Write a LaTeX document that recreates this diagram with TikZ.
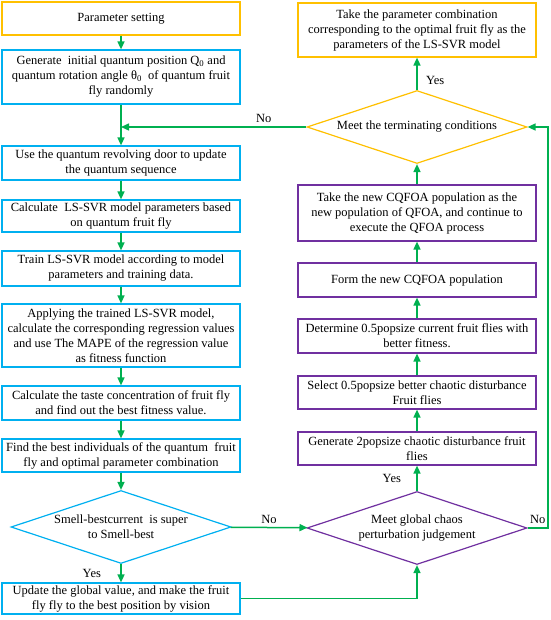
\documentclass[tikz,border=0pt]{standalone}
\usepackage{fontspec}
\setmainfont{Liberation Serif}
\usetikzlibrary{arrows.meta,shapes.geometric}
\definecolor{cyellow}{RGB}{255,192,0}
\definecolor{cblue}{RGB}{0,176,240}
\definecolor{cpurple}{RGB}{112,48,160}
\definecolor{cgreen}{RGB}{0,176,80}
\newcommand{\qsub}[1]{\textsubscript{#1}}

\begin{document}
\begin{tikzpicture}[
			x=1pt, y=-1pt,
			every node/.style={font=\fontsize{12.5}{15}\selectfont},
			box/.style={draw, line width=1.2pt, minimum width=238pt, align=center, inner sep=2pt},
			ybox/.style={box, draw=cyellow},
			bbox/.style={box, draw=cblue},
			pbox/.style={box, draw=cpurple},
			dia/.style={diamond, draw, line width=1.2pt, shape aspect=3, inner sep=0pt,
				minimum width=220pt, minimum height=73pt, align=center},
			arr/.style={draw=cgreen, line width=1.5pt, -{Triangle[length=8pt,width=7pt]}}
		]
			\useasboundingbox (0,0) rectangle (550,620);
			% left column
			\node[ybox, minimum height=33pt] (set) at (121,18.5) {Parameter setting};
			\node[bbox, minimum height=54pt] (init) at (121,77)
				{Generate \ initial quantum position Q\qsub{0} and\\quantum rotation angle θ\qsub{0} \ of quantum fruit\\fly randomly};
			\node[bbox, minimum height=34pt] (door) at (121,163)
				{Use the quantum revolving door to update\\the quantum sequence};
			\node[bbox, minimum height=32pt] (calc) at (121,216)
				{Calculate \ LS-SVR model parameters based\\on quantum fruit fly};
			\node[bbox, minimum height=35pt] (train) at (121,268.5)
				{Train LS-SVR model according to model\\parameters and training data.};
			\node[bbox, minimum height=63pt] (apply) at (121,335.5)
				{Applying the trained LS-SVR model,\\calculate the corresponding regression values\\and use The MAPE of the regression value\\as fitness function};
			\node[bbox, minimum height=34pt] (taste) at (121,403)
				{Calculate the taste concentration of fruit fly\\and find out the best fitness value.};
			\node[bbox, minimum height=33pt] (find) at (121,455.5)
				{Find the best individuals of the quantum \ fruit\\fly and optimal parameter combination};
			\node[dia, draw=cblue] (smell) at (121,527)
				{Smell-bestcurrent \ is super\\to Smell-best};
			\node[bbox, minimum height=31pt] (update) at (121,598.5)
				{Update the global value, and make the fruit\\fly fly to the best position by vision};
			% right column
			\node[ybox, minimum height=54pt] (final) at (417,30)
				{Take the parameter combination\\corresponding to the optimal fruit fly as the\\parameters of the LS-SVR model};
			\node[dia, draw=cyellow] (term) at (417,127) {Meet the terminating conditions};
			\node[pbox, minimum height=56pt] (newpop) at (417,213)
				{Take the new CQFOA population as the\\new population of QFOA, and continue to\\execute the QFOA process};
			\node[pbox, minimum height=34pt] (form) at (417,280) {Form the new CQFOA population};
			\node[pbox, minimum height=34pt] (determ) at (417,336)
				{Determine 0.5popsize current fruit flies with\\better fitness.};
			\node[pbox, minimum height=33pt] (select) at (417,392.5)
				{Select 0.5popsize better chaotic disturbance\\Fruit flies};
			\node[pbox, minimum height=33pt] (gen) at (417,448.5)
				{Generate 2popsize chaotic disturbance fruit\\flies};
			\node[dia, draw=cpurple] (chaos) at (417,528)
				{Meet global chaos\\perturbation judgement};
			\coordinate (rt) at (548,127);

			% connectors
			\draw[arr] (set) -- (init);
			\draw[arr] (init) -- (door);
			\draw[arr] (door) -- (calc);
			\draw[arr] (calc) -- (train);
			\draw[arr] (train) -- (apply);
			\draw[arr] (apply) -- (taste);
			\draw[arr] (taste) -- (find);
			\draw[arr] (find) -- (smell);
			\draw[arr] (smell) -- node[midway, left=16pt] {Yes} (update);
			\draw[arr] (smell) -- node[midway, above] {No} (chaos);
			\draw[arr] (update) -| (chaos);
			\draw[arr] (chaos) -- node[midway, left=12pt] {Yes} (gen);
			\draw[arr] (gen) -- (select);
			\draw[arr] (select) -- (determ);
			\draw[arr] (determ) -- (form);
			\draw[arr] (form) -- (newpop);
			\draw[arr] (newpop) -- (term);
			\draw[arr] (chaos.east) -| node[pos=0.25, above] {No} (rt) -- (term.east);
			\draw[arr] (term) -- node[pos=0.3, right=5pt] {Yes} (final);
			\draw[arr] (term.west) -- node[pos=0.23, above] {No} (term.west -| init.south);
		\end{tikzpicture}
\end{document}
